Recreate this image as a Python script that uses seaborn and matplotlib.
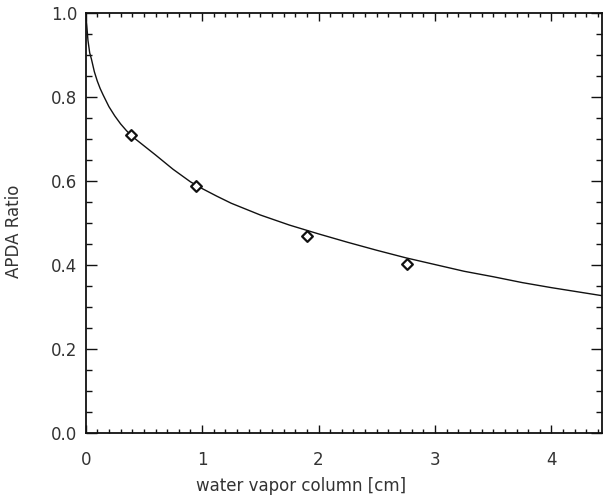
import matplotlib
matplotlib.use('Agg')
import matplotlib.pyplot as plt
from matplotlib.ticker import MultipleLocator, FormatStrFormatter
import numpy as np
import pandas as pd
import seaborn as sns

# fitted curve
curve_x = [0.0, 0.005, 0.01, 0.02, 0.035, 0.05, 0.075, 0.1, 0.125, 0.15,
           0.2, 0.25, 0.3, 0.35, 0.4, 0.5, 0.6, 0.75, 0.9, 1.0,
           1.125, 1.25, 1.5, 1.75, 2.0, 2.25, 2.5, 2.75, 3.0, 3.25,
           3.5, 3.75, 4.0, 4.25, 4.5]
curve_y = [1.0, 0.985, 0.97, 0.935, 0.905, 0.89, 0.86, 0.838, 0.82, 0.805,
           0.777, 0.755, 0.736, 0.72, 0.706, 0.684, 0.662, 0.628, 0.598, 0.582,
           0.564, 0.547, 0.519, 0.495, 0.474, 0.454, 0.435, 0.417, 0.401, 0.385,
           0.372, 0.358, 0.346, 0.335, 0.324]

# measured points (diamonds)
meas_x = [0.39, 0.95, 1.90, 2.76]
meas_y = [0.710, 0.588, 0.470, 0.402]

sns.set_style('ticks')
plt.rcParams['font.family'] = ['DejaVu Sans']

fig = plt.figure(figsize=(6.03, 4.99), dpi=100)
ax = fig.add_axes([0.142, 0.1323, 0.856, 0.8417])

curve_df = pd.DataFrame({'x': curve_x, 'y': curve_y})
meas_df = pd.DataFrame({'x': meas_x, 'y': meas_y})

sns.lineplot(data=curve_df, x='x', y='y', ax=ax, color='#111111',
             linewidth=1.0, sort=True, estimator=None)
sns.scatterplot(data=meas_df, x='x', y='y', ax=ax, marker='D', s=30,
                facecolor='white', edgecolor='#111111', linewidth=1.6, zorder=3)

ax.set_xlim(0, 4.432)
ax.set_ylim(0, 1.0)
ax.xaxis.set_major_locator(MultipleLocator(1))
ax.xaxis.set_minor_locator(MultipleLocator(0.1))
ax.yaxis.set_major_locator(MultipleLocator(0.2))
ax.yaxis.set_minor_locator(MultipleLocator(0.05))
ax.yaxis.set_major_formatter(FormatStrFormatter('%.1f'))

for s in ax.spines.values():
    s.set_visible(True)
    s.set_linewidth(1.3)
    s.set_color('#111111')

ax.tick_params(axis='both', which='both', direction='in', top=True, right=True,
               color='#111111', labelcolor='#333333', labelsize=12)
ax.tick_params(axis='x', which='major', length=6, width=1.0, pad=13)
ax.tick_params(axis='x', which='minor', length=3, width=1.0)
ax.tick_params(axis='y', which='major', length=8, width=1.0, pad=6)
ax.tick_params(axis='y', which='minor', length=4, width=1.0)

ax.set_xlabel('water vapor column [cm]', fontsize=12, color='#333333')
ax.set_ylabel('APDA Ratio', fontsize=12, color='#333333')
ax.xaxis.set_label_coords((301 - 85.7) / 516.3, -0.105)
ax.yaxis.set_label_coords(-0.122, 0.48)

fig.savefig('out.png', dpi=100)
plt.close(fig)
